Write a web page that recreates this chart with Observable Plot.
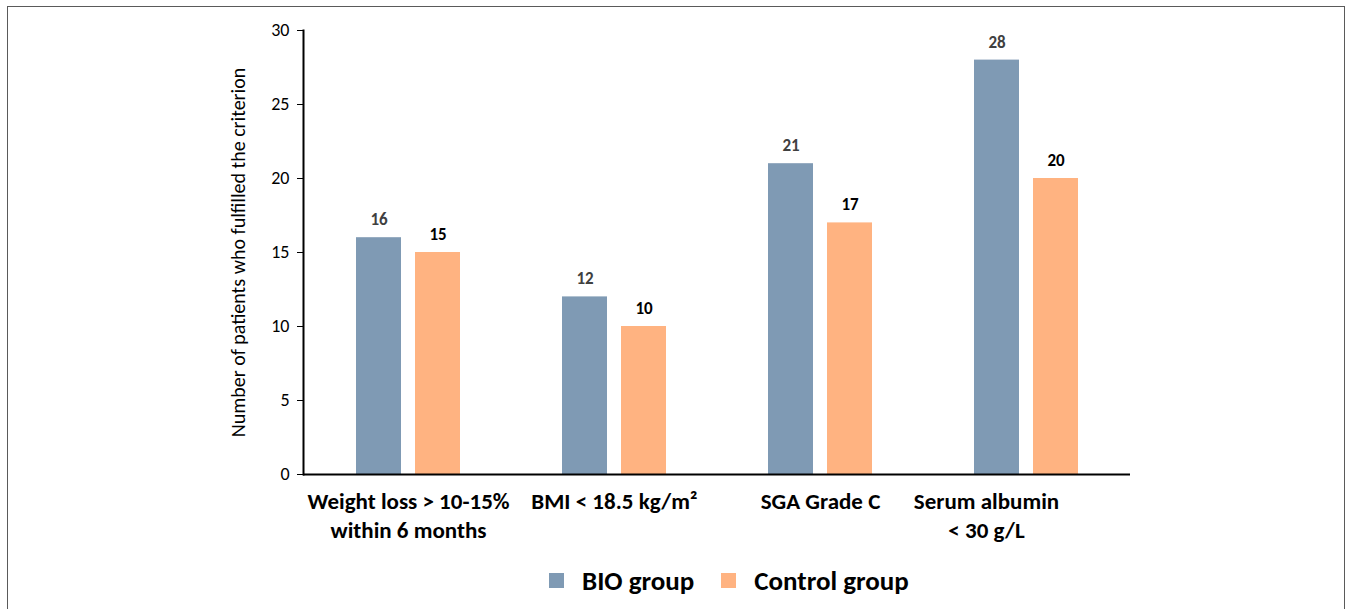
<!DOCTYPE html>
<html><head><meta charset="utf-8">
<script src="https://cdn.jsdelivr.net/npm/d3@7"></script>
<script src="https://cdn.jsdelivr.net/npm/@observablehq/plot@0.6"></script>
<style>
body{margin:0;background:#fff;font-family:Carlito,Lato,sans-serif;}
#box{position:absolute;left:7px;top:6px;width:1336px;height:640px;border:1px solid #5a5a5a;overflow:hidden;}
#chart{position:absolute;left:0;top:0;}
#legend{position:absolute;left:541px;top:557px;display:flex;align-items:center;font-weight:bold;font-size:27px;color:#000;}
#legend .item{display:flex;align-items:center;margin-right:27px;}
#legend .sw{width:15px;height:15px;margin-right:18px;}
</style></head>
<body>
<div id="box"><div id="chart"></div><div id="legend"></div></div>
<script>
const categories = ["Weight loss > 10-15%\nwithin 6 months", "BMI < 18.5 kg/m²", "SGA Grade C", "Serum albumin\n< 30 g/L"];
const groups = ["BIO group", "Control group"];
const bioValues = [16, 12, 21, 28];
const controlValues = [15, 10, 17, 20];
const yTicks = [0, 5, 10, 15, 20, 25, 30];
const colors = ["#7f9ab4", "#ffb381"];
const yLabel = "Number of patients who fulfilled the criterion";

const bio = categories.map((c, i) => ({category: c, group: groups[0], value: bioValues[i]}));
const ctrl = categories.map((c, i) => ({category: c, group: groups[1], value: controlValues[i]}));

const font = "Carlito, Lato, sans-serif";
const chart = Plot.plot({
  width: 1336,
  height: 560,
  marginLeft: 295,
  marginRight: 214,
  marginTop: 23,
  marginBottom: 93,
  style: {fontFamily: font, background: "transparent", color: "#000"},
  x: {domain: categories, padding: 0},
  y: {domain: [0, 30]},
  marks: [
    Plot.barY(bio, {x: "category", y: "value", fill: colors[0], insetLeft: 51, insetRight: 110}),
    Plot.barY(ctrl, {x: "category", y: "value", fill: colors[1], insetLeft: 110, insetRight: 51}),
    Plot.text(bio, {x: "category", y: "value", text: "value", dx: -29.5, dy: -18, fill: "#404040", fontWeight: "bold", fontSize: 17}),
    Plot.text(ctrl, {x: "category", y: "value", text: "value", dx: 29.5, dy: -18, fill: "#000", fontWeight: "bold", fontSize: 17}),
    Plot.ruleY([0], {stroke: "#000", strokeWidth: 2}),
    Plot.frame({anchor: "left", stroke: "#000", strokeWidth: 2}),
    Plot.axisY({ticks: yTicks, tickSize: 6, tickPadding: 8, fontSize: 18, label: null, stroke: "#000"}),
    Plot.axisX({ticks: categories.slice(0, 3), tickSize: 0, tickPadding: 14, fontSize: 23, fontWeight: "bold", lineHeight: 1.26, label: null}),
    Plot.axisX({ticks: [categories[3]], tickSize: 0, tickPadding: 14, fontSize: 23, fontWeight: "bold", lineHeight: 1.26, label: null, dx: -40}),
    Plot.text([yLabel], {frameAnchor: "left", textAnchor: "middle", rotate: -90, dx: -65, fontSize: 20, fill: "#000"})
  ]
});
document.getElementById("chart").appendChild(chart);

const legend = document.getElementById("legend");
groups.forEach((g, i) => {
  const item = document.createElement("div");
  item.className = "item";
  const sw = document.createElement("div");
  sw.className = "sw";
  sw.style.background = colors[i];
  const t = document.createElement("span");
  t.textContent = g;
  item.appendChild(sw); item.appendChild(t);
  legend.appendChild(item);
});
</script>
</body></html>
